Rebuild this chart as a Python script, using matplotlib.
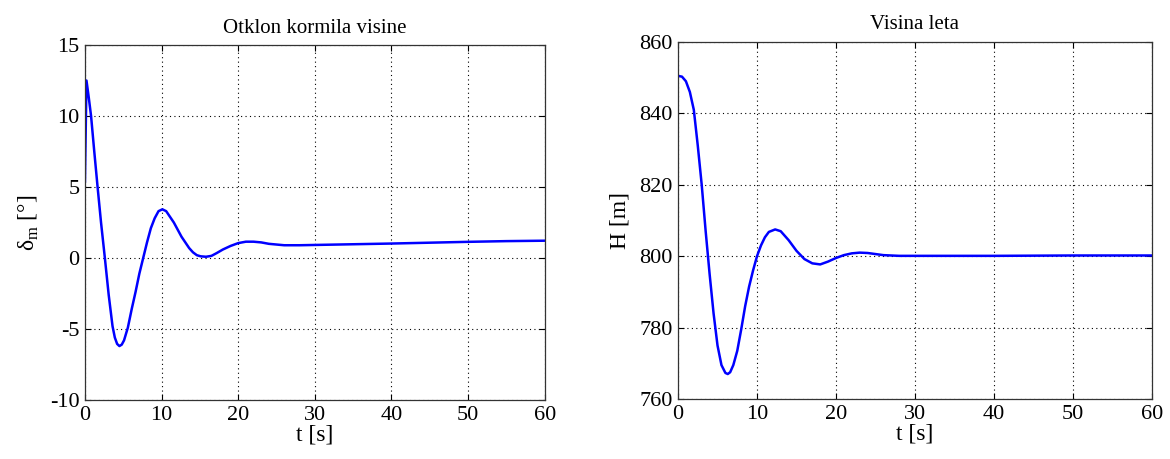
import matplotlib
matplotlib.use('Agg')
import matplotlib.pyplot as plt

plt.rcParams['font.family'] = ['Liberation Serif', 'DejaVu Serif']
plt.rcParams['mathtext.fontset'] = 'custom'
plt.rcParams['mathtext.rm'] = 'Liberation Serif'
plt.rcParams['axes.unicode_minus'] = False

# Otklon kormila visine (delta_m u stupnjevima)
t_delta = [0, 0.2, 0.5, 0.8, 1.2, 1.65, 2.1, 2.6, 3.1, 3.6, 3.9, 4.2, 4.5, 4.8,
           5.1, 5.6, 6.1, 6.6, 7.1, 7.6, 8.1, 8.6, 9.1, 9.6, 10.1, 10.6, 11.1,
           11.6, 12.1, 12.6, 13.1, 13.6, 14.1, 14.6, 15.1, 15.8, 16.5, 17.2, 18,
           19, 20, 21, 22, 23, 24, 25, 26, 27, 28, 30, 35, 40, 45, 50, 55, 60]
delta_m = [5.4, 12.5, 11.3, 10.0, 7.6, 5.0, 2.5, 0.0, -2.6, -4.8, -5.6, -6.05,
           -6.2, -6.1, -5.8, -4.9, -3.6, -2.4, -1.1, 0.0, 1.1, 2.1, 2.8, 3.3,
           3.43, 3.3, 2.9, 2.5, 2.0, 1.5, 1.1, 0.7, 0.4, 0.2, 0.12, 0.09, 0.15,
           0.35, 0.6, 0.85, 1.05, 1.15, 1.15, 1.1, 1.0, 0.95, 0.9, 0.9, 0.9,
           0.92, 0.97, 1.02, 1.08, 1.14, 1.19, 1.22]

# Visina leta (H u metrima)
t_h = [0, 0.5, 1.0, 1.5, 2.0, 2.5, 3.0, 3.5, 4.0, 4.5, 5.0, 5.5, 6.0, 6.3, 6.6,
       7.0, 7.5, 8.0, 8.5, 9.0, 9.5, 10.0, 10.5, 11.0, 11.5, 12.3, 13, 14, 15,
       16, 17, 18, 19, 20, 21, 22, 23, 24, 25, 26, 28, 30, 40, 50, 60]
visina = [850.5, 850.3, 849, 846, 841, 831, 820, 807, 795, 784, 775, 769.5, 767.3,
          767, 767.5, 769.5, 773.5, 779.5, 786, 791.5, 796, 800, 803, 805.3,
          806.8, 807.5, 807, 804.5, 801.5, 799.2, 798, 797.7, 798.5, 799.5,
          800.3, 800.8, 801, 800.9, 800.6, 800.3, 800.1, 800.1, 800.1, 800.2,
          800.2]

x_ticks = [0, 10, 20, 30, 40, 50, 60]


def matlab_style(ax):
    ax.tick_params(direction='in', top=True, right=True, labelsize=16,
                   length=4, width=0.8, pad=4)
    ax.grid(True, linestyle=(0, (1, 3)), color='black', linewidth=0.8)
    for s in ax.spines.values():
        s.set_linewidth(0.9)
        s.set_color('#333333')


fig = plt.figure(figsize=(11.7, 4.59), dpi=100)

ax1 = fig.add_axes([0.0726, 0.1285, 0.393, 0.7734])
ax1.plot(t_delta, delta_m, color='#0000ff', linewidth=1.8)
ax1.set_xlim(0, 60)
ax1.set_ylim(-10, 15)
ax1.set_xticks(x_ticks)
ax1.set_yticks([-10, -5, 0, 5, 10, 15])
ax1.set_title('Otklon kormila visine', fontsize=15, pad=9)
ax1.set_xlabel('t [s]', fontsize=17, labelpad=0)
ax1.set_ylabel(r'δ$_{\mathrm{m}}$ [°]', fontsize=17, labelpad=6)
matlab_style(ax1)

ax2 = fig.add_axes([0.5795, 0.1307, 0.4051, 0.7778])
ax2.plot(t_h, visina, color='#0000ff', linewidth=1.8)
ax2.set_xlim(0, 60)
ax2.set_ylim(760, 860)
ax2.set_xticks(x_ticks)
ax2.set_yticks([760, 780, 800, 820, 840, 860])
ax2.set_title('Visina leta', fontsize=15, pad=9)
ax2.set_xlabel('t [s]', fontsize=17, labelpad=0)
ax2.set_ylabel('H [m]', fontsize=17, labelpad=6)
matlab_style(ax2)

fig.savefig('out.png', dpi=100)
